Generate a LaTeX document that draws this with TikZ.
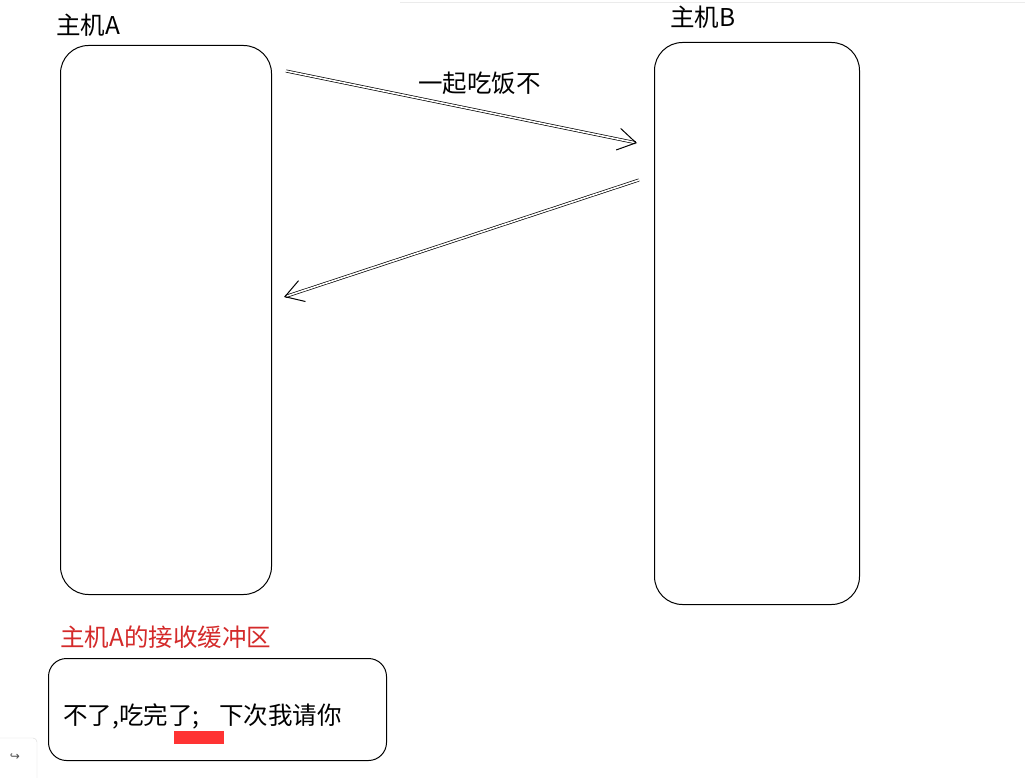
\documentclass[tikz,border=0pt]{standalone}
\usepackage{fontspec}
\setmainfont{Noto Sans CJK SC}
\newfontfamily\dv{DejaVu Sans}
\usetikzlibrary{arrows.meta}
\definecolor{lblred}{HTML}{D42A2A}
\begin{document}
\begin{tikzpicture}[x=1pt,y=-1pt,
  hostbox/.style={draw,line width=1pt,rounded corners=28pt},
  lbl/.style={font=\fontsize{24.5}{28}\selectfont,inner sep=0pt,anchor=west},
  msg/.style={draw,line width=0.7pt,double,double distance=1.6pt,-{Straight Barb[length=18pt,width=22pt,line width=1pt]}}]
\useasboundingbox (0,0) rectangle (1025,778);
\fill[white] (0,0) rectangle (1025,778);
\draw[black!8] (400,2) -- (1025,2);
\node[hostbox,minimum width=211pt,minimum height=549pt,anchor=north west] (A) at (60,45) {};
\node[hostbox,minimum width=205pt,minimum height=562pt,anchor=north west] (B) at (654,42) {};
\node[lbl] (la) at (56,25) {主机A};
\node[lbl] (lb) at (670,17) {主机B};
\coordinate (a1) at (286,71);
\coordinate (b1) at (637,143);
\coordinate (b2) at (639,180);
\coordinate (a2) at (284,297);
\draw[msg] (a1) -- (b1);
\draw[msg] (b2) -- (a2);
\node[lbl] (m1) at (418,83) {一起吃饭不};
\node[lbl,text=lblred] (lr) at (60,637) {主机A的接收缓冲区};
\node[draw,line width=1pt,rounded corners=18pt,minimum width=338pt,minimum height=102pt,anchor=north west] (buf) at (48,658) {};
\node[lbl] (t) at (63,716) {不了,吃完了;\hspace{20pt}下次我请你};
\fill[red!80!white] (174,731) rectangle (224,744);
\draw[black!15,rounded corners=4pt] (-5,738) rectangle (37,783);
\node[font=\dv\fontsize{12}{14}\selectfont,text=black!70] (ic) at (15,757) {↪};
\end{tikzpicture}
\end{document}
